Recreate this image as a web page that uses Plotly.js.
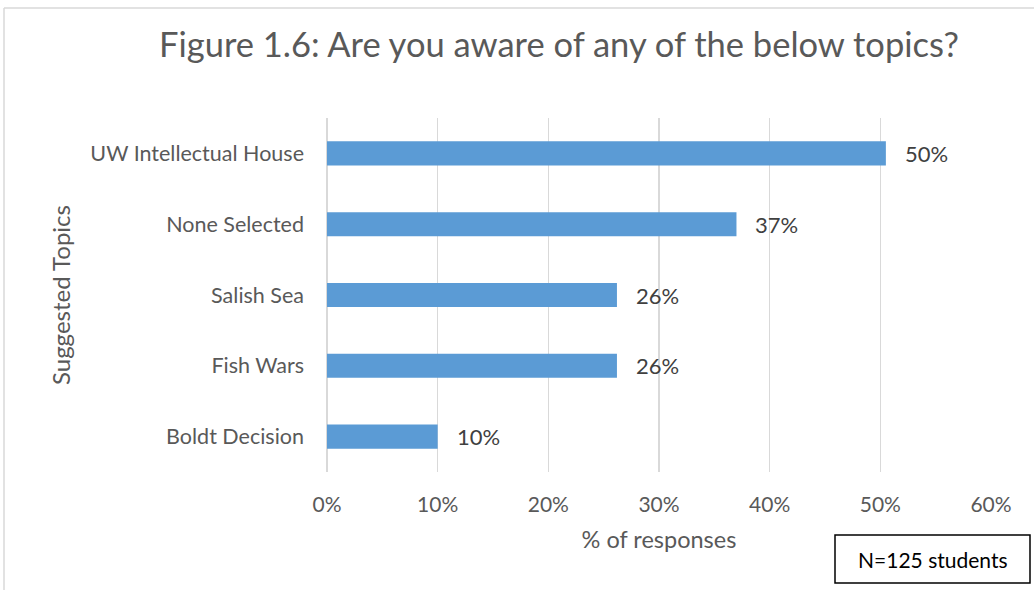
<!DOCTYPE html>
<html>
<head>
<meta charset="utf-8">
<script src="https://cdn.plot.ly/plotly-3.0.1.min.js"></script>
<style>html,body{margin:0;padding:0;background:#fff;}#chart{width:1034px;height:590px;}</style>
</head>
<body>
<div id="chart"></div>
<script>
var categories = ["Boldt Decision", "Fish Wars", "Salish Sea", "None Selected", "UW Intellectual House"];
var values = [10.0, 26.2, 26.2, 37.0, 50.5];
var labels = ["10%", "26%", "26%", "37%", "50%"];
var tickVals = [0, 10, 20, 30, 40, 50, 60];
var tickText = ["0%", "10%", "20%", "30%", "40%", "50%", "60%"];

var FONT = "Lato, 'Open Sans', sans-serif";
var grey = "#595959";

var annotations = categories.map(function(c, i) {
  return {x: values[i], y: c, xref: "x", yref: "y", text: labels[i], showarrow: false,
          xanchor: "left", xshift: 17, font: {family: FONT, size: 22, color: "#404040"}};
});
annotations.push({xref: "paper", yref: "paper", x: (933 - 327) / 664, y: (472 - 559) / 354,
  text: "N=125 students", showarrow: false, xanchor: "center", yanchor: "middle",
  font: {family: FONT, size: 21, color: "#000"}});

var data = [{
  type: "bar", orientation: "h", y: categories, x: values,
  marker: {color: "#5b9bd5"}, width: 0.34, hoverinfo: "none"
}];

var layout = {
  width: 1034, height: 590,
  margin: {l: 327, r: 43, t: 118, b: 118},
  paper_bgcolor: "#fff", plot_bgcolor: "#fff",
  title: {text: "Figure 1.6: Are you aware of any of the below topics?", x: 559 / 1034, xanchor: "center",
          xref: "container", y: 1 - 45 / 590, yref: "container", yanchor: "middle",
          font: {family: FONT, size: 34.5, color: grey}},
  xaxis: {range: [0, 60], tickvals: tickVals, ticktext: tickText, showgrid: true,
          gridcolor: "#d9d9d9", gridwidth: 1.5, zeroline: true, zerolinecolor: "#d9d9d9", zerolinewidth: 1.5,
          showline: false, layer: "below traces",
          ticks: "", ticklabelstandoff: 18, tickfont: {family: FONT, size: 21, color: grey},
          title: {text: "% of responses", standoff: 16, font: {family: FONT, size: 23.5, color: grey}},
          fixedrange: true},
  yaxis: {categoryorder: "array", categoryarray: categories, showgrid: false, zeroline: false,
          showline: false, ticks: "", ticklabelstandoff: 22,
          tickfont: {family: FONT, size: 21.5, color: grey},
          title: {text: "Suggested Topics", standoff: 12, font: {family: FONT, size: 24, color: grey}},
          fixedrange: true},
  shapes: [
    {type: "line", xref: "paper", yref: "paper", x0: (4 - 327) / 664, x1: (1040 - 327) / 664,
     y0: (472 - 8) / 354, y1: (472 - 8) / 354, line: {color: "#d9d9d9", width: 1.5}},
    {type: "line", xref: "paper", yref: "paper", x0: (4 - 327) / 664, x1: (4 - 327) / 664,
     y0: (472 - 8) / 354, y1: (472 - 600) / 354, line: {color: "#d9d9d9", width: 1.5}},
    {type: "rect", xref: "paper", yref: "paper", x0: (835 - 327) / 664, x1: (1030 - 327) / 664,
     y0: (472 - 535) / 354, y1: (472 - 583) / 354, line: {color: "#000", width: 1.5}, fillcolor: "#fff", layer: "below"}
  ],
  annotations: annotations,
  showlegend: false
};

Plotly.newPlot("chart", data, layout, {displayModeBar: false, staticPlot: true});
</script>
</body>
</html>
